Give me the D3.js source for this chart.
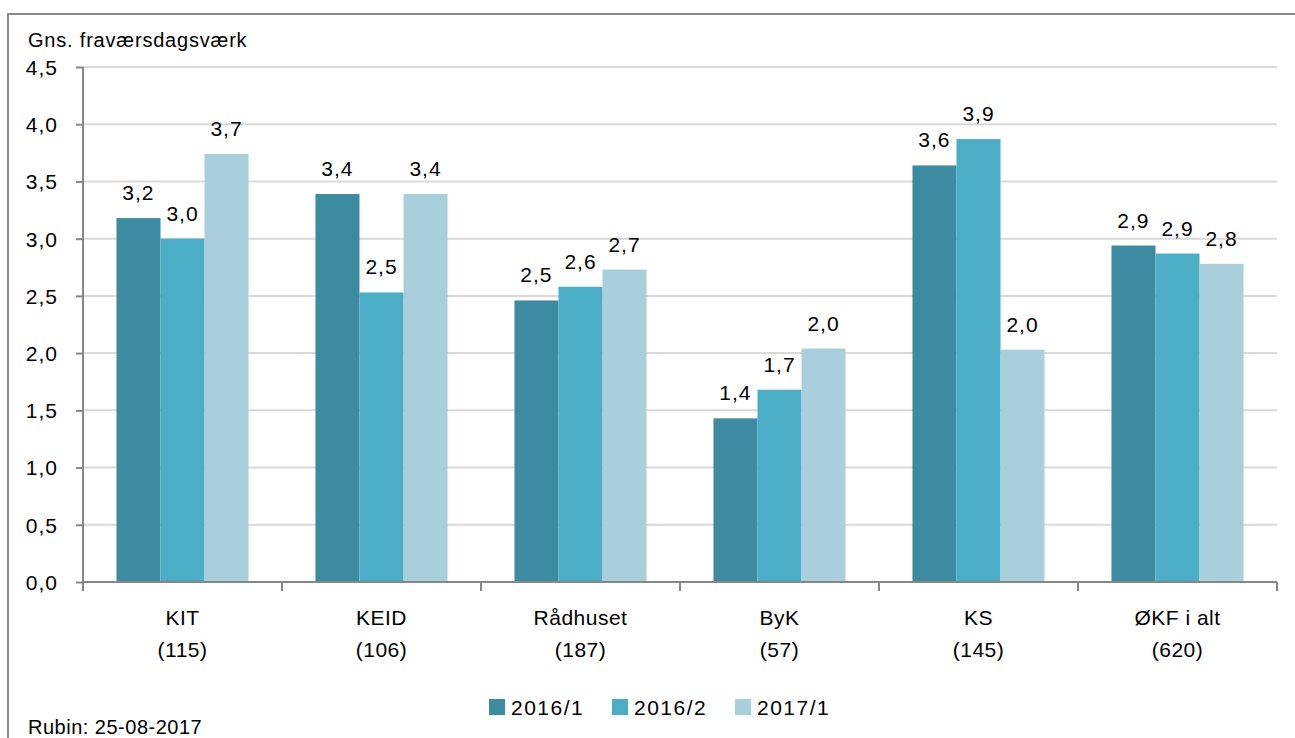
<!DOCTYPE html>
<meta charset="utf-8">
<style>
body, html {
  margin: 0;
  padding: 0;
  background: #fff;
  overflow: hidden;
}
svg text {
  font-family: Arial, "Liberation Sans", sans-serif;
  fill: #000;
}
.grid line {
  stroke: #d9d9d9;
  stroke-width: 2px;
}
.axis path, .axis line {
  stroke: #868686;
  stroke-width: 2px;
}
</style>
<svg width="1295" height="738"></svg>
<script src="https://cdn.jsdelivr.net/npm/d3@7"></script>
<script>

var categories = ["KIT", "KEID", "Rådhuset", "ByK", "KS", "ØKF i alt"];
var counts = ["(115)", "(106)", "(187)", "(57)", "(145)", "(620)"];
var seriesNames = ["2016/1", "2016/2", "2017/1"];
var s2016_1 = [3.18, 3.39, 2.46, 1.43, 3.64, 2.94];
var s2016_2 = [3.00, 2.53, 2.58, 1.68, 3.87, 2.87];
var s2017_1 = [3.74, 3.39, 2.73, 2.04, 2.03, 2.78];
var colors = ["#3d8ba1", "#4badc6", "#a9cfdd"];
var yTicks = [0, 0.5, 1, 1.5, 2, 2.5, 3, 3.5, 4, 4.5];

var series = [s2016_1, s2016_2, s2017_1];

var svg = d3.select("svg");

var plotLeft = 83, plotRight = 1277, plotTop = 67, plotBottom = 582;

// frame around the chart
svg.append("rect")
    .attr("x", 8).attr("y", 14)
    .attr("width", 1400).attr("height", 800)
    .attr("fill", "none")
    .attr("stroke", "#8a8a8a")
    .attr("stroke-width", 2);

var fmt = function(v) { return d3.format(".1f")(v).replace(".", ","); };

var x = d3.scaleBand()
    .domain(categories)
    .range([plotLeft, plotRight])
    .padding(0);

var xs = d3.scaleBand()
    .domain(d3.range(seriesNames.length))
    .range([0, x.bandwidth()])
    .paddingInner(0)
    .paddingOuter(0.76);

var y = d3.scaleLinear()
    .domain([0, 4.5])
    .range([plotBottom, plotTop]);

// gridlines
svg.append("g")
    .attr("class", "grid")
    .selectAll("line")
    .data(yTicks.slice(1))
    .join("line")
    .attr("x1", plotLeft).attr("x2", plotRight)
    .attr("y1", function(d) { return y(d); })
    .attr("y2", function(d) { return y(d); });

// bars
var groups = svg.append("g")
    .selectAll("g")
    .data(categories)
    .join("g")
    .attr("transform", function(d) { return "translate(" + x(d) + ",0)"; });

groups.selectAll("rect")
    .data(function(d, i) { return series.map(function(s, j) { return {j: j, v: s[i]}; }); })
    .join("rect")
    .attr("x", function(d) { return xs(d.j); })
    .attr("width", xs.bandwidth())
    .attr("y", function(d) { return y(d.v); })
    .attr("height", function(d) { return plotBottom - y(d.v); })
    .attr("fill", function(d) { return colors[d.j]; });

groups.selectAll("text")
    .data(function(d, i) { return series.map(function(s, j) { return {j: j, v: s[i]}; }); })
    .join("text")
    .attr("x", function(d) { return xs(d.j) + xs.bandwidth() / 2; })
    .attr("y", function(d) { return y(d.v) - 18; })
    .attr("text-anchor", "middle")
    .style("font-size", "21px")
    .style("letter-spacing", "1px")
    .text(function(d) { return fmt(d.v); });

// y axis
var yAxis = svg.append("g")
    .attr("class", "axis")
    .attr("transform", "translate(" + plotLeft + ",0)")
    .call(d3.axisLeft(y).tickValues(yTicks).tickSize(7).tickPadding(18).tickFormat(fmt));
yAxis.select(".domain").attr("d", "M0," + plotTop + "V" + plotBottom);
yAxis.selectAll("text")
    .style("font-size", "21px")
    .style("letter-spacing", "1px")
    .attr("dy", "0.35em");

// x axis
var xAxisG = svg.append("g")
    .attr("class", "axis")
    .attr("transform", "translate(0," + plotBottom + ")");
xAxisG.append("path")
    .attr("d", "M" + plotLeft + ",0H" + plotRight);
xAxisG.selectAll("line")
    .data(categories.concat(["end"]))
    .join("line")
    .attr("x1", function(d, i) { return i < categories.length ? x(d) : plotRight; })
    .attr("x2", function(d, i) { return i < categories.length ? x(d) : plotRight; })
    .attr("y1", 0).attr("y2", 9);

var catLabels = svg.append("g")
    .selectAll("text")
    .data(categories)
    .join("text")
    .attr("text-anchor", "middle")
    .style("font-size", "21px")
    .style("letter-spacing", "0.5px");
catLabels.append("tspan")
    .attr("x", function(d) { return x(d) + x.bandwidth() / 2; })
    .attr("y", 625)
    .text(function(d) { return d; });
catLabels.append("tspan")
    .attr("x", function(d) { return x(d) + x.bandwidth() / 2; })
    .attr("y", 657)
    .text(function(d, i) { return counts[i]; });

// axis title
svg.append("text")
    .attr("x", 28).attr("y", 47)
    .style("font-size", "20px")
    .style("letter-spacing", "0.8px")
    .text("Gns. fraværsdagsværk");

// legend
var legend = svg.append("g")
    .selectAll("g")
    .data(seriesNames)
    .join("g")
    .attr("transform", function(d, i) { return "translate(" + (489 + i * 123) + ",699)"; });
legend.append("rect")
    .attr("width", 16).attr("height", 16)
    .attr("fill", function(d, i) { return colors[i]; });
legend.append("text")
    .attr("x", 22).attr("y", 16)
    .style("font-size", "21px")
    .style("letter-spacing", "1.5px")
    .text(function(d) { return d; });

// source note
svg.append("text")
    .attr("x", 28).attr("y", 734)
    .style("font-size", "20px")
    .style("letter-spacing", "0.5px")
    .text("Rubin: 25-08-2017");

</script>
